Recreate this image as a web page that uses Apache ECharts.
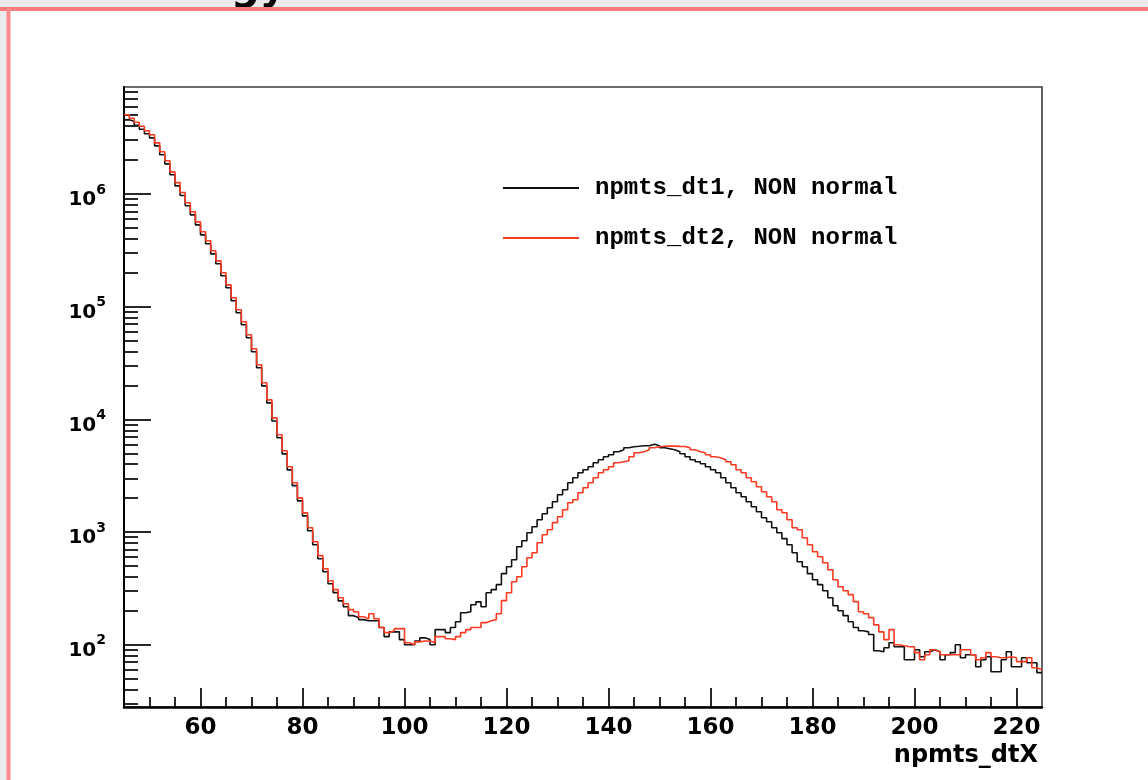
<!DOCTYPE html>
<html>
<head>
<meta charset="utf-8">
<title>npmts_dtX</title>
<script src="https://cdn.jsdelivr.net/npm/echarts@6/dist/echarts.min.js"></script>
</head>
<body style="margin:0;background:#ebebee">
<div id="container" style="width:1148px;height:780px;"></div>
<script type="text/javascript">
// histogram bins: 180 bins of width 1 starting at 45
var binStart = 45;
var binWidth = 1;

// npmts_dt1 (black)
var dt1Counts = [
  4.55e6, 4.42e6, 4.07e6, 3.75e6, 3.42e6, 3.15e6, 2.67e6, 2.23e6, 1.85e6, 1.48e6,
  1.18e6, 9.68e5, 7.86e5, 6.53e5, 5.32e5, 4.34e5, 3.62e5, 2.94e5, 2.40e5, 1.88e5,
  1.47e5, 1.13e5, 8.82e4, 6.91e4, 5.30e4, 3.98e4, 2.87e4, 1.98e4, 1.40e4, 9680,
  6860, 4940, 3560, 2580, 1890, 1390, 1025, 771, 580, 444,
  348, 290, 245, 217, 181, 174, 167, 163, 163, 163,
  142, 118, 130, 130, 111, 100, 100, 108, 115, 111,
  100, 136, 136, 128, 142, 160, 192, 196, 226, 240,
  217, 289, 308, 341, 427, 492, 568, 741, 837, 986,
  1114, 1285, 1453, 1643, 1858, 2143, 2373, 2735, 3034, 3357,
  3573, 3793, 4121, 4385, 4656, 4853, 5164, 5370, 5598, 5715,
  5770, 5834, 5834, 6012, 5834, 5598, 5483, 5370, 5164, 4955,
  4656, 4385, 4207, 4036, 3793, 3573, 3357, 3034, 2735, 2472,
  2234, 2056, 1858, 1676, 1514, 1340, 1234, 1092, 986, 873,
  771, 655, 545, 492, 427, 377, 341, 301, 261, 222,
  200, 181, 160, 142, 133, 130, 123, 88.5, 86.7, 94.1,
  104, 96, 96, 73.6, 73.6, 90.3, 78.2, 86.7, 90.3, 86.7,
  73.6, 81.5, 85, 100, 76.7, 81.5, 81.5, 63.8, 73.6, 78.2,
  57.6, 57.6, 73.6, 86.7, 63.8, 63.8, 76.7, 69.2, 69.2, 56.5
];

// npmts_dt2 (red)
var dt2Counts = [
  5.05e6, 4.70e6, 4.33e6, 3.99e6, 3.64e6, 3.35e6, 2.84e6, 2.37e6, 1.97e6, 1.57e6,
  1.26e6, 1.03e6, 8.36e5, 6.95e5, 5.66e5, 4.62e5, 3.85e5, 3.13e5, 2.55e5, 2.00e5,
  1.56e5, 1.20e5, 9.38e4, 7.35e4, 5.64e4, 4.23e4, 3.05e4, 2.11e4, 1.49e4, 1.03e4,
  7300, 5260, 3790, 2740, 2010, 1480, 1090, 820, 617, 472,
  370, 308, 261, 231, 205, 196, 177, 170, 188, 170,
  142, 128, 133, 139, 139, 104, 100, 106, 108, 108,
  104, 118, 118, 113, 111, 118, 128, 136, 142, 142,
  157, 163, 167, 188, 246, 289, 362, 401, 492, 592,
  655, 803, 946, 1047, 1211, 1368, 1578, 1820, 1936, 2234,
  2472, 2735, 3034, 3357, 3573, 3793, 4121, 4207, 4295, 4656,
  5058, 5164, 5370, 5598, 5715, 5770, 5800, 5790, 5760, 5740,
  5598, 5370, 5164, 5058, 4853, 4656, 4561, 4385, 4207, 3955,
  3573, 3357, 3034, 2793, 2523, 2280, 2056, 1858, 1578, 1483,
  1285, 1092, 1047, 890, 771, 668, 604, 534, 463, 377,
  327, 301, 278, 241, 196, 188, 174, 150, 130, 111,
  136, 100, 98, 96, 96, 85, 73.6, 81.5, 90.3, 86.7,
  81.5, 81.5, 81.5, 81.5, 90.3, 90.3, 81.5, 73.6, 76.7, 85,
  78.2, 76.7, 76.7, 78.2, 76.7, 70.7, 70.7, 76.7, 62.5, 60
];

var seriesNames = ['npmts_dt1, NON normal', 'npmts_dt2, NON normal'];
var xLabelValues = [60, 80, 100, 120, 140, 160, 180, 200, 220];
var yLabelValues = [1e2, 1e3, 1e4, 1e5, 1e6];
var xMin = 45, xMax = 225;
var yMin = 28, yMax = 8.9e6;

// minor ticks every 5 on x, 2..9 x 10^n on y
var xMinorValues = [];
for (var t = 50; t < xMax; t += 5) {
  if (t % 20 != 0) xMinorValues.push(t);
}
var yMinorValues = [];
for (var n = 1; n <= 6; n++) {
  for (var k = 2; k <= 9; k++) {
    var v = k * Math.pow(10, n);
    if (v > yMin && v < yMax) yMinorValues.push(v);
  }
}

// step points on the bin edges, last edge repeats the last bin
function toSteps(counts) {
  var pts = [];
  for (var i = 0; i < counts.length; i++) {
    pts.push([binStart + i * binWidth, counts[i]]);
  }
  pts.push([binStart + counts.length * binWidth, counts[counts.length - 1]]);
  return pts;
}

var labelFont = 'DejaVu Sans';
var tickStyle = { color: '#111', width: 1.8 };

var option = {
  animation: false,
  backgroundColor: '#ebebee',
  graphic: [
    { type: 'rect', z: -10, shape: { x: 9, y: 9, width: 1139, height: 771 }, style: { fill: '#ffffff' } },
    { type: 'text', z: -5, style: { text: 'gy', x: 231, y: 9, verticalAlign: 'bottom', font: 'bold 40px DejaVu Sans', fill: '#000' } },
    { type: 'line', z: 10, shape: { x1: 0, y1: 9, x2: 1148, y2: 9 }, style: { stroke: '#ff7c7c', lineWidth: 4 } },
    { type: 'line', z: 10, shape: { x1: 8.5, y1: 8, x2: 8.5, y2: 780 }, style: { stroke: '#ff8c8c', lineWidth: 4 } }
  ],
  grid: {
    left: 124, top: 87, right: 106, bottom: 73,
    show: true, backgroundColor: '#fff', borderColor: '#3c3c3c', borderWidth: 1.6
  },
  legend: {
    orient: 'vertical',
    left: 503,
    top: 176,
    padding: 0,
    itemWidth: 76,
    itemHeight: 2,
    itemGap: 26,
    icon: 'rect',
    data: seriesNames,
    formatter: function (name) { return '{t|' + name + '}'; },
    textStyle: {
      rich: {
        t: { fontFamily: 'Liberation Mono', fontWeight: 'bold', fontSize: 24, color: '#000', padding: [0, 0, 0, 11] }
      }
    }
  },
  xAxis: [
    {
      type: 'value', min: xMin, max: xMax,
      axisLine: { lineStyle: { color: '#000', width: 2.5 } },
      axisTick: { inside: true, length: 19, customValues: xLabelValues, lineStyle: tickStyle },
      axisLabel: {
        customValues: xLabelValues, margin: 10,
        fontFamily: labelFont, fontWeight: 'bold', fontSize: 23, color: '#000'
      },
      splitLine: { show: false },
      name: 'npmts_dtX',
      nameLocation: 'end',
      nameGap: -4,
      nameTextStyle: {
        fontFamily: labelFont, fontWeight: 'bold', fontSize: 24, color: '#000',
        align: 'right', verticalAlign: 'top', padding: [37, 0, 0, 0]
      }
    },
    {
      type: 'value', min: xMin, max: xMax, position: 'bottom',
      axisLine: { show: false },
      axisTick: { inside: true, length: 10, customValues: xMinorValues, lineStyle: tickStyle },
      axisLabel: { show: false },
      splitLine: { show: false }
    }
  ],
  yAxis: [
    {
      type: 'log', min: yMin, max: yMax,
      axisLine: { show: true, lineStyle: { color: '#000', width: 2 } },
      axisTick: { show: true, inside: true, length: 27, customValues: yLabelValues, lineStyle: tickStyle },
      axisLabel: {
        customValues: yLabelValues, margin: 18, padding: [12, 0, 0, 0],
        formatter: function (val) {
          var p = Math.round(Math.log(val) / Math.LN10);
          return '{b|10}{s|' + p + '}';
        },
        rich: {
          b: { fontFamily: labelFont, fontWeight: 'bold', fontSize: 20, color: '#000', lineHeight: 34 },
          s: { fontFamily: labelFont, fontWeight: 'bold', fontSize: 14, color: '#000', lineHeight: 12, verticalAlign: 'top' }
        }
      },
      splitLine: { show: false }
    },
    {
      type: 'log', min: yMin, max: yMax, position: 'left',
      axisLine: { show: false },
      axisTick: { show: true, inside: true, length: 14, customValues: yMinorValues, lineStyle: tickStyle },
      axisLabel: { show: false },
      splitLine: { show: false }
    }
  ],
  series: [
    {
      name: seriesNames[0], type: 'line', step: 'end',
      data: toSteps(dt1Counts),
      symbol: 'none', z: 3,
      lineStyle: { color: '#111', width: 1.6 },
      itemStyle: { color: '#111' }
    },
    {
      name: seriesNames[1], type: 'line', step: 'end',
      data: toSteps(dt2Counts),
      symbol: 'none', z: 4,
      lineStyle: { color: '#fa3a22', width: 1.6 },
      itemStyle: { color: '#fa3a22' }
    }
  ]
};

var myChart = echarts.init(document.getElementById('container'));
myChart.setOption(option);
</script>
</body>
</html>
